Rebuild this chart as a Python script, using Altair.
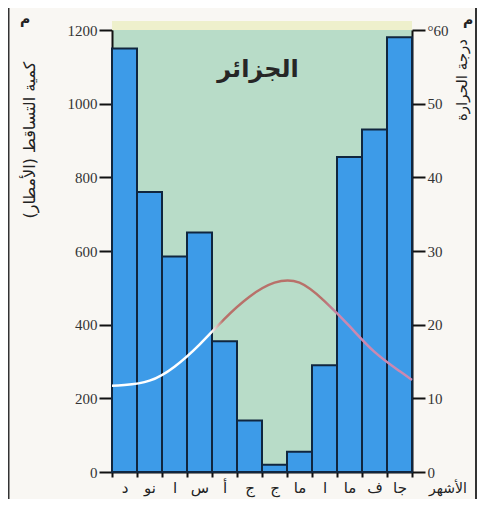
import altair as alt
import pandas as pd

# Months, left to right (the chart runs Jan on the right to Dec on the left)
month_keys = ["dec", "nov", "oct", "sep", "aug", "jul", "jun", "may", "apr", "mar", "feb", "jan"]
month_labels = ["د", "نو", "ا", "س", "أ", "ج", "ج", "ما", "ا", "ما", "ف", "جا"]
rain_mm = [1150, 760, 585, 650, 355, 140, 20, 55, 290, 855, 930, 1180]

# Temperature curve: position along the month axis (0 = left edge, 12 = right edge)
temp_pos = [0, 0.5, 1.5, 2.5, 3.5, 4.5, 5.5, 6.5, 7.5, 8.5, 9.5, 10.5, 11.5, 12]
temp_c = [11.7, 11.8, 12.4, 14.3, 17.3, 20.8, 23.8, 25.7, 25.7, 23.2, 19.8, 16.3, 13.7, 12.5]

rain_ticks = [0, 200, 400, 600, 800, 1000, 1200]
temp_ticks = [0, 10, 20, 30, 40, 50, 60]

title_text = "الجزائر"
left_title = "كمية التساقط (الأمطار)"
right_title = "درجة الحرارة"
x_title = "الأشهر"
unit_left = "م"
unit_right = "م"

W, H = 300, 442
AR = "DejaVu Sans"
SERIF = "Liberation Serif"

bars_df = pd.DataFrame({"month": month_keys, "rain": rain_mm})
line_df = pd.DataFrame({"pos": temp_pos, "temp": temp_c})

keys_js = "[" + ",".join(f"'{k}'" for k in month_keys) + "]"
labels_js = "[" + ",".join(f"'{l}'" for l in month_labels) + "]"

strip = alt.Chart(pd.DataFrame({"a": [0]})).mark_rect(color="#eef0cc").encode(
    x=alt.value(0), x2=alt.value(W), y=alt.value(-9), y2=alt.value(0)
)

frame = alt.Chart(pd.DataFrame({"xx": [-103.5, 364]})).mark_rule(
    color="#333333", strokeWidth=2
).encode(
    x=alt.X("xx:Q", scale=None), y=alt.value(-30), y2=alt.value(H + 40)
)

bars = alt.Chart(bars_df).mark_bar(
    color="#3d9be8", stroke="#10263f", strokeWidth=2
).encode(
    x=alt.X(
        "month:N",
        sort=month_keys,
        scale=alt.Scale(paddingInner=0, paddingOuter=0),
        axis=alt.Axis(
            title=None,
            labelAngle=0,
            labelExpr=f"{labels_js}[indexof({keys_js}, datum.value)]",
            labelFont=AR,
            labelFontSize=15,
            labelColor="#222222",
            labelPadding=3,
            tickBand="extent",
            tickSize=5,
            tickWidth=2,
            tickColor="#111111",
            domainColor="#111111",
            domainWidth=2,
        ),
    ),
    y=alt.Y(
        "rain:Q",
        scale=alt.Scale(domain=[0, 1200], nice=False),
        axis=alt.Axis(
            title=None,
            values=rain_ticks,
            format="d",
            orient="left",
            grid=False,
            labelFont=SERIF,
            labelFontSize=15,
            labelColor="#333333",
            labelPadding=2,
            tickSize=13,
            tickWidth=2,
            tickColor="#111111",
            domainColor="#111111",
            domainWidth=2,
        ),
    ),
)

grad = alt.LinearGradient(
    gradient="linear",
    stops=[
        alt.GradientStop(color="#ffffff", offset=0),
        alt.GradientStop(color="#ffffff", offset=0.33),
        alt.GradientStop(color="#b8716a", offset=0.37),
        alt.GradientStop(color="#b8716a", offset=0.70),
        alt.GradientStop(color="#cc88b0", offset=0.76),
        alt.GradientStop(color="#cc88b0", offset=1),
    ],
    x1=0, x2=1, y1=0, y2=0,
)

line = alt.Chart(line_df).mark_line(
    interpolate="natural", strokeWidth=2.5, color=grad
).encode(
    x=alt.X("pos:Q", scale=alt.Scale(domain=[0, 12], nice=False), axis=None),
    y=alt.Y(
        "temp:Q",
        scale=alt.Scale(domain=[0, 60], nice=False),
        axis=alt.Axis(
            title=None,
            values=temp_ticks,
            orient="right",
            grid=False,
            labelExpr="datum.value == 60 ? '°60' : datum.label",
            labelFont=SERIF,
            labelFontSize=15,
            labelColor="#333333",
            labelPadding=2,
            tickSize=13,
            tickWidth=2,
            tickColor="#111111",
            domainColor="#111111",
            domainWidth=2,
        ),
    ),
)


def txt(s, x, y, size, angle=0, bold=False, color="#222222", align="center"):
    kw = dict(font=AR, fontSize=size, color=color, align=align, baseline="middle")
    if angle:
        kw["angle"] = angle
    if bold:
        kw["fontWeight"] = "bold"
    return alt.Chart(pd.DataFrame({"t": [s]})).mark_text(**kw).encode(
        x=alt.value(x), y=alt.value(y), text="t:N"
    )


texts = [
    txt(title_text, 146, 40, 24, bold=True, color="#262626"),
    txt(left_title, -82, 110, 16, angle=270),
    txt(right_title, 350, 50, 15, angle=270),
    txt(x_title, 336, 459, 14),
    txt(unit_left, -87, -10, 14, bold=True),
    txt(unit_right, 356, -9, 14, bold=True),
]

chart = alt.layer(strip, frame, bars, line, *texts).resolve_scale(
    x="independent", y="independent"
).properties(
    width=W,
    height=H,
    padding={"left": 104, "top": 22, "right": 65, "bottom": 27},
    autosize=alt.AutoSizeParams(type="none"),
).configure(background="#f9f7f3").configure_view(stroke=None, fill="#b8dcc8")

chart.save("out.html", embed_options={"renderer": "svg", "actions": False})
